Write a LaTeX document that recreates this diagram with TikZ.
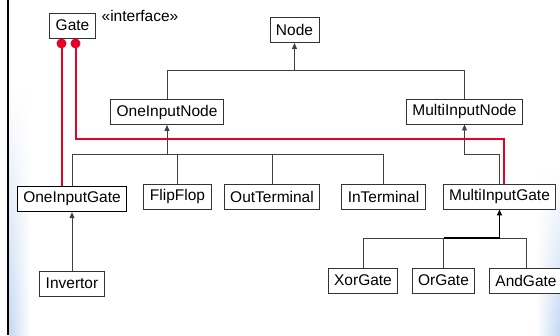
\documentclass[tikz,border=0pt]{standalone}
\usepackage{fontspec}
\setmainfont{Liberation Sans}
\usepackage{tikz}
\usetikzlibrary{arrows.meta}
\usetikzlibrary{calc}
\usetikzlibrary{fadings}

\definecolor{implred}{RGB}{232,0,40}
\definecolor{edgeblue}{RGB}{196,216,242}

\tikzset{
	box/.style={draw=black!80, line width=0.9pt, fill=white, minimum height=25pt, inner xsep=6pt, inner ysep=0pt, font=\fontsize{15.5}{18}\selectfont},
	inh/.style={draw=black!75, line width=0.9pt, -{Triangle[width=5pt,length=6pt]}},
	link/.style={draw=black!75, line width=0.9pt},
	impl/.style={draw=implred, line width=2pt}
}

\begin{document}
\begin{tikzpicture}[x=1pt, y=-1pt]
	\useasboundingbox (0,0) rectangle (560,335);
	\fill[white] (0,0) rectangle (560,335);
	
	% window edge
	\shade[left color=edgeblue, right color=white, path fading=north] (9,90) rectangle (30,335);
	\shade[left color=white, right color=edgeblue, path fading=north] (536,170) rectangle (560,335);
	\draw[line width=1.4pt] (8,0) -- (8,335);
	
	% classes
	\node[box] (gate) at (72.5,25.5) {Gate};
	\node[font=\fontsize{15.5}{18}\selectfont] (stereo) at (140,16) {«interface»};
	\node[box] (node) at (294.5,30) {Node};
	
	\node[box] (oneinputnode) at (167,112) {OneInputNode};
	\node[box] (multiinputnode) at (464.5,111.5) {MultiInputNode};
	
	\node[box, draw=black, line width=1.4pt] (oneinputgate) at (72,199) {OneInputGate};
	\node[box] (flipflop) at (177.5,196.5) {FlipFlop};
	\node[box] (outterminal) at (272,196.5) {OutTerminal};
	\node[box] (interminal) at (383.5,196.5) {InTerminal};
	\node[box] (multiinputgate) at (499.5,196.5) {MultiInputGate};
	
	\node[box] (invertor) at (72,283.5) {Invertor};
	\node[box] (xorgate) at (363,280.5) {XorGate};
	\node[box] (orgate) at (443.5,280.5) {OrGate};
	\node[box] (andgate) at (526,280.5) {AndGate};
	
	% junctions
	\coordinate (j1) at (node.south |- 0,70);
	\coordinate (j2) at (oneinputnode.south |- 0,154);
	\coordinate (j3) at (multiinputnode.south |- 0,154);
	\coordinate (j4) at (multiinputgate.south |- 0,238);
	
	% inheritance
	\draw[inh] (j1) -- (node.south);
	\draw[link] (oneinputnode.north) -- (oneinputnode.north |- j1) -- (multiinputnode.north |- j1) -- (multiinputnode.north);
	
	\draw[inh] (j2) -- (oneinputnode.south);
	\draw[link] (oneinputgate.north) |- (interminal.north |- j2) -- (interminal.north);
	\draw[link] (flipflop.north) -- (flipflop.north |- j2);
	\draw[link] (outterminal.north) -- (outterminal.north |- j2);
	
	\draw[inh] (multiinputgate.north) |- (j3) -- (multiinputnode.south);
	
	\draw[inh] (invertor.north) -- (oneinputgate.south);
	
	\draw[link] (xorgate.north) |- (andgate.north |- j4) -- (andgate.north);
	\draw[link] (orgate.north) -- (orgate.north |- j4);
	\draw[line width=1.6pt] (orgate.north |- j4) -- (j4);
	\draw[inh, draw=black, line width=1.6pt] (j4) -- (multiinputgate.south);
	
	% realisation of Gate
	\coordinate (d1) at ($(gate.south)+(-11,5)$);
	\coordinate (d2) at ($(gate.south)+(3,5)$);
	\coordinate (r2) at ($(multiinputgate.north)+(4,0)$);
	\draw[impl] (d1) -- (d1 |- oneinputgate.north);
	\draw[impl] (d2) |- ($(r2)+(0,-45)$) -- (r2);
	\fill[implred] (d1) circle (5);
	\fill[implred] (d2) circle (5);
\end{tikzpicture}
\end{document}
